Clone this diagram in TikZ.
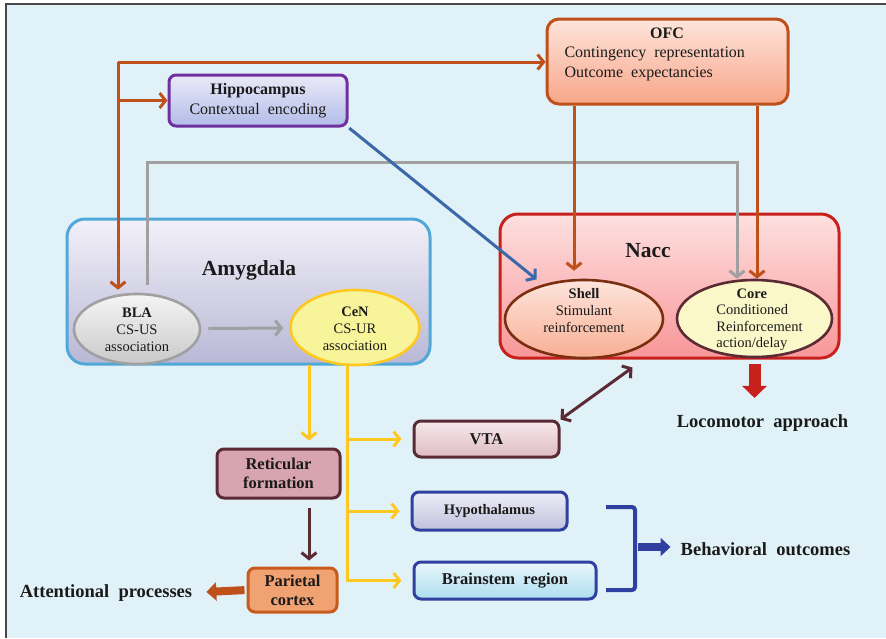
\documentclass[tikz,border=0pt]{standalone}
\usepackage{fontspec}
\setmainfont{Liberation Serif}
\usepackage{xcolor}
\usetikzlibrary{shapes.geometric,arrows.meta,positioning}

\definecolor{bgblue}{RGB}{224,242,248}
\definecolor{ink}{RGB}{26,26,26}
\definecolor{burnt}{RGB}{192,80,26}
\definecolor{grayline}{RGB}{160,160,160}
\definecolor{blueline}{RGB}{58,104,168}
\definecolor{yellowline}{RGB}{255,200,32}
\definecolor{maroon}{RGB}{90,42,53}
\definecolor{redline}{RGB}{200,32,26}
\definecolor{navy}{RGB}{48,64,160}
\definecolor{amyedge}{RGB}{79,168,216}
\definecolor{amytop}{RGB}{242,240,248}
\definecolor{amybot}{RGB}{184,184,214}
\definecolor{nacctop}{RGB}{254,224,224}
\definecolor{naccbot}{RGB}{248,150,152}
\definecolor{salmontop}{RGB}{253,228,220}
\definecolor{salmonbot}{RGB}{248,166,136}
\definecolor{hippoedge}{RGB}{112,48,160}
\definecolor{hippotop}{RGB}{234,234,248}
\definecolor{hippobot}{RGB}{178,188,232}
\definecolor{cenfill}{RGB}{248,244,154}
\definecolor{corefill}{RGB}{250,248,200}
\definecolor{shelledge}{RGB}{122,48,16}
\definecolor{vtatop}{RGB}{246,232,236}
\definecolor{vtabot}{RGB}{222,188,196}
\definecolor{retfill}{RGB}{216,164,176}
\definecolor{parfill}{RGB}{240,162,114}
\definecolor{paredge}{RGB}{200,90,26}
\definecolor{hypotop}{RGB}{238,238,248}
\definecolor{hypobot}{RGB}{192,192,220}
\definecolor{stemtop}{RGB}{234,246,250}
\definecolor{stembot}{RGB}{172,222,240}

\begin{document}
\begin{tikzpicture}[x=1pt, y=-1pt,
    txt/.style={font=\fontsize{16}{20}\selectfont, text=ink},
    small/.style={font=\fontsize{14.5}{17}\selectfont, text=ink, align=center, inner sep=0pt},
    title/.style={font=\fontsize{21.5}{24}\selectfont\bfseries, text=ink},
    outcome/.style={font=\fontsize{18.5}{22}\selectfont\bfseries, text=ink, inner sep=2pt},
    region/.style={rectangle, rounded corners=18pt, line width=3pt},
    box/.style={rectangle, rounded corners=7pt, line width=3pt, align=center, inner sep=0pt,
        font=\fontsize{16.5}{19}\selectfont\bfseries, text=ink},
    area/.style={ellipse, line width=2.6pt, inner sep=0pt},
    link/.style={line width=3pt, -{Straight Barb[length=6pt,width=15pt]}},
    fat/.style={line width=8pt, -{Triangle[length=10pt,width=18pt]}}
]
    \useasboundingbox (0,0) rectangle (886,638);
    \fill[bgblue] (6,4) rectangle (886,638);
    \draw[ink!80, line width=2pt] (6,638) -- (6,4) -- (886,4);

    % regions
    \node[region, draw=amyedge, top color=amytop, bottom color=amybot, minimum width=363pt, minimum height=145pt] (amyg) at (248.5,291.5) {};
    \node[region, draw=redline, top color=nacctop, bottom color=naccbot, minimum width=339pt, minimum height=144pt] (nacc) at (669.5,286) {};
    \node[title, anchor=base] (amygtitle) at (249,275) {Amygdala};
    \node[title, anchor=base] (nacctitle) at (648,257) {Nacc};

    % cortex and hippocampus
    \node[box, rounded corners=12pt, draw=burnt, top color=salmontop, bottom color=salmonbot, minimum width=241pt, minimum height=85pt] (ofc) at (667.5,61.5) {};
    \node[txt, anchor=base] (ofctitle) at (667,38) {\bfseries OFC};
    \node[txt, anchor=base west] (ofcline1) at (561,57) {Contingency\ \ representation};
    \node[txt, anchor=base west] (ofcline2) at (561,77) {Outcome\ \ expectancies};
    \node[box, draw=hippoedge, top color=hippotop, bottom color=hippobot, minimum width=178pt, minimum height=51pt,
        font=\fontsize{16}{20}\selectfont] (hippo) at (258,100.5) {\textbf{Hippocampus}\\Contextual\ \ encoding};

    % nuclei
    \node[area, draw=grayline, top color=gray!8, bottom color=gray!42, minimum width=126pt, minimum height=70pt] (bla) at (137,329) {};
    \node[small] (blatext) at (137,330) {\textbf{BLA}\\CS-US\\association};
    \node[area, draw=yellowline, fill=cenfill, minimum width=129pt, minimum height=75pt] (cen) at (355,327.5) {};
    \node[small] (centext) at (355,329) {\textbf{CeN}\\CS-UR\\association};
    \node[area, draw=shelledge, top color=salmontop, bottom color=salmonbot!90!white, minimum width=158pt, minimum height=78pt] (shell) at (584,319) {};
    \node[small] (shelltext) at (584,310.5) {\textbf{Shell}\\Stimulant\\reinforcement};
    \node[area, draw=maroon, fill=corefill, minimum width=155pt, minimum height=77pt] (core) at (754.5,318.5) {};
    \node[small, align=left, font=\fontsize{14.5}{16.5}\selectfont] (coretext) at (759.5,320) {\hspace*{1.4em}\textbf{Core}\\Conditioned\\Reinforcement\\action/delay};

    % downstream targets
    \node[box, draw=maroon, top color=vtatop, bottom color=vtabot, minimum width=145pt, minimum height=36pt] (vta) at (486.5,439) {VTA};
    \node[box, draw=maroon, fill=retfill, minimum width=123pt, minimum height=49pt] (reticular) at (278.5,473.5) {Reticular\\formation};
    \node[box, draw=paredge, fill=parfill, minimum width=89pt, minimum height=44pt] (parietal) at (292.5,590) {Parietal\\cortex};
    \node[box, draw=navy, top color=hypotop, bottom color=hypobot, minimum width=155pt, minimum height=38pt,
        font=\fontsize{14.5}{17}\selectfont\bfseries] (hypo) at (489.5,511) {Hypothalamus};
    \node[box, draw=navy, top color=stemtop, bottom color=stembot, minimum width=182pt, minimum height=37pt] (brainstem) at (505,580.5) {Brainstem\ \ region};

    % outcomes
    \node[outcome, anchor=base] (loco) at (762.5,427) {Locomotor\ \ approach};
    \node[outcome, anchor=base] (behav) at (765.5,555) {Behavioral\ \ outcomes};
    \node[outcome, anchor=base] (attn) at (106,597) {Attentional\ \ processes};

    % cortical loop
    \coordinate (split) at (118,62);
    \draw[link, burnt] (split) -- (split -| ofc.west);
    \draw[link, burnt, shorten >=3pt] (split) -- (split |- bla.north);
    \draw[link, burnt] (split |- hippo.west) -- (hippo.west);
    \draw[link, grayline, shorten <=8pt] ([xshift=10pt]bla.north) -- ++(0,-130) -| ([xshift=-17.5pt]core.north);
    \draw[link, blueline, shorten <=1pt, shorten >=8pt] (hippo.south east) -- (shell.140);
    \draw[link, burnt, shorten >=8pt] ([xshift=-93.5pt]ofc.south) -- ([xshift=-93.5pt]ofc.south |- shell.north);
    \draw[link, burnt] ([xshift=89.5pt]ofc.south) -- ([xshift=89.5pt]ofc.south |- core.north);
    \draw[link, grayline, shorten <=7pt, shorten >=6pt] (bla) -- (cen);

    % amygdala output
    \coordinate (cenleft) at (309,365);
    \coordinate (cenright) at (347,365);
    \draw[link, yellowline, shorten >=7pt] (cenleft) -- (cenleft |- reticular.north);
    \draw[link, yellowline, shorten >=11pt] (cenright) |- (brainstem.west);
    \draw[link, yellowline, shorten >=11pt] (cenright |- vta.west) -- (vta.west);
    \draw[link, yellowline, shorten >=11pt] (cenright |- hypo.west) -- (hypo.west);
    \draw[link, maroon, shorten <=8pt, shorten >=6pt] (reticular.south -| cenleft) -- (cenleft |- parietal.north);
    \draw[line width=3pt, maroon, {Straight Barb[length=6pt,width=15pt]}-{Straight Barb[length=6pt,width=15pt]}]
        (vta.north east) -- ([xshift=-37pt,yshift=-8pt]nacc.south);

    % behavioural outputs
    \draw[redline, line width=12pt, -{Triangle[length=12pt,width=24pt]}, shorten <=4pt, shorten >=14pt]
        (core.south |- nacc.south) -- (core.south |- loco.north);
    \draw[fat, burnt, shorten <=2pt, shorten >=12pt] (parietal.west) -- (attn.east);
    \coordinate (brace) at (635,547);
    \draw[navy, line width=4pt, rounded corners=3pt] (606,507) -| (brace) |- (606,590);
    \draw[fat, navy, shorten <=3pt, shorten >=8pt] (brace) -- (brace -| behav.west);
\end{tikzpicture}
\end{document}
